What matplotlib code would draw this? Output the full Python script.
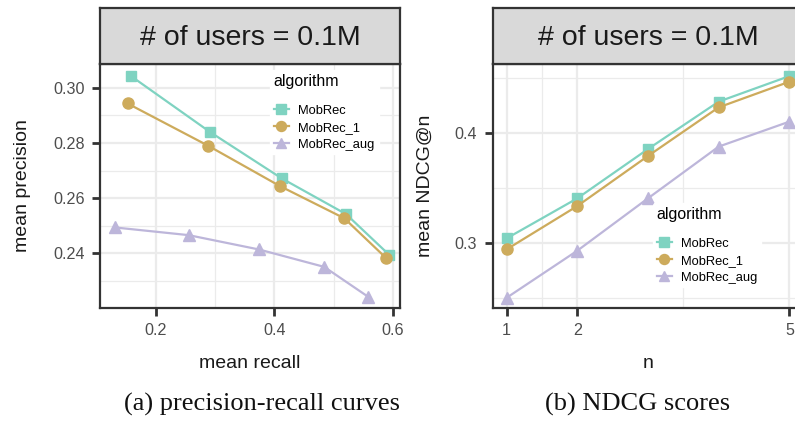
import matplotlib
matplotlib.use("Agg")
import matplotlib.pyplot as plt
from matplotlib.ticker import FixedLocator

plt.rcParams['font.family'] = ['Liberation Sans', 'DejaVu Sans']

# ---------------- data ----------------
algorithms = ["MobRec", "MobRec_1", "MobRec_aug"]
colors = ["#7fd3c1", "#cdab5c", "#bdb6da"]
markers = ["s", "o", "^"]
msizes = [7.5, 8, 8.5]

# (a) precision-recall
recall_mobrec = [0.158, 0.291, 0.412, 0.521, 0.594]
prec_mobrec = [0.3042, 0.2840, 0.2672, 0.2542, 0.2394]
recall_mobrec1 = [0.152, 0.288, 0.409, 0.518, 0.589]
prec_mobrec1 = [0.2943, 0.2790, 0.2644, 0.2527, 0.2382]
recall_aug = [0.130, 0.255, 0.374, 0.484, 0.558]
prec_aug = [0.2494, 0.2466, 0.2414, 0.2351, 0.2243]

# (b) NDCG
n_values = [1, 2, 3, 4, 5]
ndcg_mobrec = [0.3045, 0.3409, 0.3857, 0.4288, 0.4520]
ndcg_mobrec1 = [0.2945, 0.3339, 0.3794, 0.4236, 0.4469]
ndcg_aug = [0.2505, 0.2933, 0.3409, 0.3879, 0.4106]

strip_text = "# of users = 0.1M"
W, H = 795, 422

fig = plt.figure(figsize=(W / 100, H / 100), dpi=100)

def px_axes(x0, y0, x1, y1):
    return fig.add_axes([x0 / W, 1 - y1 / H, (x1 - x0) / W, (y1 - y0) / H])

dark = "#333333"
grid_c = "#ebebeb"

def style_panel(ax, xmaj, xmin, ymaj, ymin, xlabs, ylabs):
    ax.set_facecolor("white")
    ax.xaxis.set_major_locator(FixedLocator(xmaj))
    ax.xaxis.set_minor_locator(FixedLocator(xmin))
    ax.yaxis.set_major_locator(FixedLocator(ymaj))
    ax.yaxis.set_minor_locator(FixedLocator(ymin))
    ax.set_xticklabels(xlabs)
    ax.set_yticklabels(ylabs)
    ax.grid(True, which="major", color=grid_c, lw=1.6, zorder=0)
    ax.grid(True, which="minor", color=grid_c, lw=0.9, zorder=0)
    ax.set_axisbelow(True)
    for s in ax.spines.values():
        s.set_color(dark)
        s.set_linewidth(1.6)
    ax.tick_params(which="major", length=6, width=2.0, color=dark,
                   labelsize=11.6, labelcolor="#4d4d4d", pad=5)
    ax.tick_params(which="minor", length=0)

def strip(x0, x1):
    sa = px_axes(x0, 8, x1, 64)
    sa.set_xticks([]); sa.set_yticks([])
    sa.set_facecolor("#d9d9d9")
    for s in sa.spines.values():
        s.set_color(dark); s.set_linewidth(1.6)
    sa.text(0.5, 0.47, strip_text, ha="center", va="center", fontsize=20.5,
            color="#1a1a1a", transform=sa.transAxes)

def make_legend(ax, anchor):
    leg = ax.legend(title="algorithm", loc="upper left", bbox_to_anchor=anchor,
                    frameon=True, framealpha=1, edgecolor="white", facecolor="white",
                    prop={"size": 9.3}, title_fontsize=11.4, handlelength=1.15,
                    handletextpad=0.75, labelspacing=0.38, borderpad=0.3,
                    markerscale=0.9)
    leg._legend_box.align = "left"
    leg._legend_box.sep = 11
    return leg

# ---------- panel (a) ----------
ax1 = px_axes(100, 64, 400, 308)
series_a = [(recall_mobrec, prec_mobrec), (recall_mobrec1, prec_mobrec1), (recall_aug, prec_aug)]
for (xs, ys), c, m, s, lab in zip(series_a, colors, markers, msizes, algorithms):
    ax1.plot(xs, ys, color=c, lw=1.6, marker=m, ms=s, label=lab, zorder=3, clip_on=False)
ax1.set_xlim(0.1055, 0.612)
ax1.set_ylim(0.2202, 0.3086)
style_panel(ax1, [0.2, 0.4, 0.6], [0.3, 0.5], [0.24, 0.26, 0.28, 0.30],
            [0.23, 0.25, 0.27, 0.29], ["0.2", "0.4", "0.6"],
            ["0.24", "0.26", "0.28", "0.30"])
ax1.set_xlabel("mean recall", fontsize=14, color="#1a1a1a", labelpad=12)
ax1.set_ylabel("mean precision", fontsize=14, color="#1a1a1a", labelpad=16)
make_legend(ax1, (0.545, 1.0))
strip(100, 400)

# ---------- panel (b) ----------
ax2 = px_axes(492.5, 64, 803.5, 308)
series_b = [ndcg_mobrec, ndcg_mobrec1, ndcg_aug]
for ys, c, m, s, lab in zip(series_b, colors, markers, msizes, algorithms):
    ax2.plot(n_values, ys, color=c, lw=1.6, marker=m, ms=s, label=lab, zorder=3, clip_on=False)
ax2.set_xlim(0.8, 5.2)
ax2.set_ylim(0.2412, 0.463)
style_panel(ax2, [1, 2, 5], [1.5, 3.5], [0.3, 0.4], [0.25, 0.35, 0.45],
            ["1", "2", "5"], ["0.3", "0.4"])
ax2.set_xlabel("n", fontsize=14, color="#1a1a1a", labelpad=12)
ax2.set_ylabel("mean NDCG@n", fontsize=14, color="#1a1a1a", labelpad=15)
make_legend(ax2, (0.495, 0.455))
strip(492.5, 803.5)

# captions
fig.text(262 / W, 1 - 404 / H, "(a) precision-recall curves", ha="center", va="center",
         fontsize=19, family=["Liberation Serif"], color="#111111")
fig.text(638 / W, 1 - 404 / H, "(b) NDCG scores", ha="center", va="center",
         fontsize=19, family=["Liberation Serif"], color="#111111")

fig.savefig("out.png", dpi=100)
